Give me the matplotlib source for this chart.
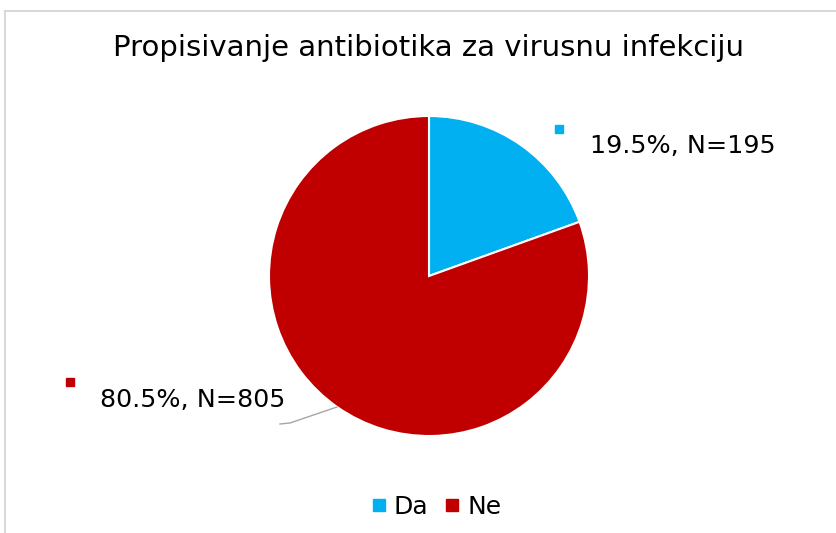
import matplotlib
matplotlib.use("Agg")
import matplotlib.pyplot as plt
from matplotlib.lines import Line2D

title = "Propisivanje antibiotika za virusnu infekciju"
categories = ["Da", "Ne"]
counts = [195, 805]
colors = ["#00B0F0", "#C00000"]

W, H = 837, 533
fig = plt.figure(figsize=(W / 100, H / 100), dpi=100)
ax = fig.add_axes([0, 0, 1, 1])
ax.set_aspect("equal")

# chart border (only top and left visible)
ax.plot([5, W], [H - 11, H - 11], color="#D9D9D9", lw=1.5)
ax.plot([5, 5], [0, H - 11], color="#D9D9D9", lw=1.5)

cx, cy, r = 429, H - 276, 160
ax.pie(counts, colors=colors, startangle=90, counterclock=False,
       center=(cx, cy), radius=r, frame=True,
       wedgeprops=dict(edgecolor="white", linewidth=1.5))
ax.set_xlim(0, W)
ax.set_ylim(0, H)
ax.axis("off")

total = sum(counts)
labels = [f"{c / total * 100:.1f}%, N={c}" for c in counts]

ax.text(590, H - 146, labels[0], fontsize=18.3, va="center", ha="left")
ax.plot(559, H - 129, marker="s", ms=6, color=colors[0])
ax.text(100, H - 400, labels[1], fontsize=18.3, va="center", ha="left")
ax.plot(70, H - 382, marker="s", ms=6, color=colors[1])
ax.plot([280, 290, 337], [H - 424, H - 423, H - 407], color="#A6A6A6", lw=1)

ax.text(429, H - 48, title, fontsize=21, ha="center", va="center")

handles = [Line2D([], [], marker="s", ls="", ms=9, color=c) for c in colors]
fig.legend(handles, categories, loc="center", bbox_to_anchor=(435 / W, 1 - 507 / H),
           ncol=2, frameon=False, fontsize=18, handletextpad=0.2,
           columnspacing=0.55, handlelength=0.8)

fig.savefig("out.png", dpi=100)
